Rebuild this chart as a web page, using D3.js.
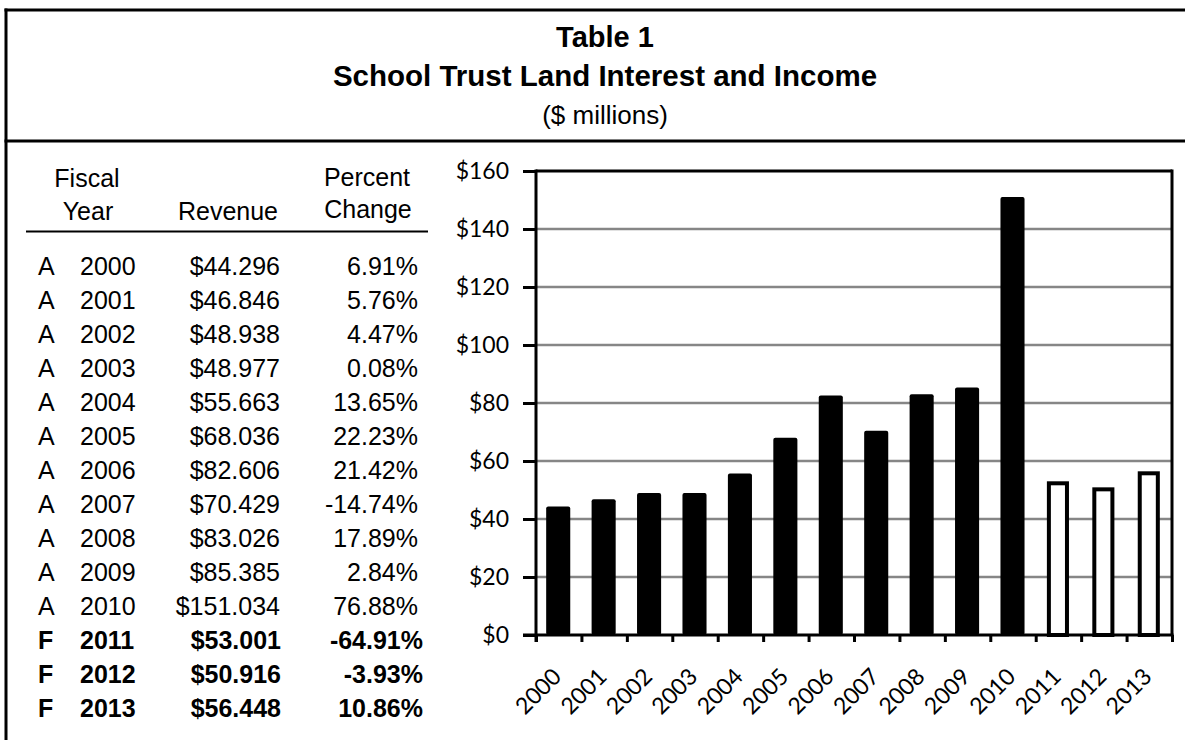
<!DOCTYPE html>
<html><head><meta charset="utf-8">
<script src="https://cdn.jsdelivr.net/npm/d3@7"></script>
<style>body{margin:0;background:#fff}svg{display:block}</style>
</head><body><svg id="c" width="1185" height="740"></svg>
<script>
// ---- data ----
const years = ["2000","2001","2002","2003","2004","2005","2006","2007","2008","2009","2010","2011","2012","2013"];
const status = ["A","A","A","A","A","A","A","A","A","A","A","F","F","F"];
const revenue = [44.296,46.846,48.938,48.977,55.663,68.036,82.606,70.429,83.026,85.385,151.034,53.001,50.916,56.448];
const pctChange = [6.91,5.76,4.47,0.08,13.65,22.23,21.42,-14.74,17.89,2.84,76.88,-64.91,-3.93,10.86];
const yTicks = [0,20,40,60,80,100,120,140,160];
const titleLines = ["Table 1","School Trust Land Interest and Income","($ millions)"];

const svg = d3.select("#c");
const ARIAL = "'Liberation Sans', Arial, sans-serif";
const CAL = "Lato, 'Open Sans', sans-serif";
const loc = d3.formatLocale({decimal:".", thousands:",", grouping:[3], currency:["$",""], minus:"-"});

// ---- frame ----
svg.append("line").attr("x1",6).attr("x2",6).attr("y1",8.5).attr("y2",740).attr("stroke","#000").attr("stroke-width",3);
svg.append("line").attr("x1",4.5).attr("x2",1185).attr("y1",10).attr("y2",10).attr("stroke","#000").attr("stroke-width",3);
svg.append("line").attr("x1",4.5).attr("x2",1185).attr("y1",141).attr("y2",141).attr("stroke","#000").attr("stroke-width",3);

// ---- titles ----
const tx = 605;
svg.append("text").attr("x",tx).attr("y",47).attr("text-anchor","middle")
  .style("font-family",ARIAL).style("font-weight","bold").style("font-size","29px").text(titleLines[0]);
svg.append("text").attr("x",tx).attr("y",86).attr("text-anchor","middle")
  .style("font-family",ARIAL).style("font-weight","bold").style("font-size","29.5px").text(titleLines[1]);
svg.append("text").attr("x",tx).attr("y",124).attr("text-anchor","middle")
  .style("font-family",ARIAL).style("font-size","26px").text(titleLines[2]);

// ---- table ----
const tfs = "25px";
const th = svg.append("g").style("font-family",ARIAL).style("font-size",tfs).attr("fill","#000");
th.append("text").attr("x",87).attr("y",187).attr("text-anchor","middle").text("Fiscal");
th.append("text").attr("x",88).attr("y",220).attr("text-anchor","middle").text("Year");
th.append("text").attr("x",228).attr("y",220).attr("text-anchor","middle").text("Revenue");
th.append("text").attr("x",367).attr("y",186).attr("text-anchor","middle").text("Percent");
th.append("text").attr("x",368).attr("y",218).attr("text-anchor","middle").text("Change");
svg.append("line").attr("x1",26).attr("x2",428).attr("y1",231.5).attr("y2",231.5).attr("stroke","#000").attr("stroke-width",2);

const rowY = d3.scaleLinear().domain([0,13]).range([275,717]);
const fmtRev = v => "$" + loc.format(".3f")(v);
const fmtPct = v => loc.format(".2f")(v) + "%";
const rows = svg.append("g").style("font-family",ARIAL).style("font-size",tfs);
years.forEach((yr,i)=>{
  const bold = status[i] === "F";
  const g = rows.append("g").style("font-weight", bold ? "bold" : "normal");
  g.append("text").attr("x",38).attr("y",rowY(i)).text(status[i]);
  g.append("text").attr("x",80).attr("y",rowY(i)).text(yr);
  g.append("text").attr("x",bold?281:280).attr("y",rowY(i)).attr("text-anchor","end").text(fmtRev(revenue[i]));
  g.append("text").attr("x",bold?423:418).attr("y",rowY(i)).attr("text-anchor","end").text(fmtPct(pctChange[i]));
});

// ---- chart ----
const L = 536, R = 1172, T = 171, B = 635;
const x = d3.scaleBand().domain(years).range([L,R]).paddingInner(0.47).paddingOuter(0.235);
const y = d3.scaleLinear().domain([0,160]).range([B,T]);

// gridlines
svg.append("g").selectAll("line").data(yTicks.filter(d=>d>0)).join("line")
  .attr("x1",L).attr("x2",R).attr("y1",d=>y(d)).attr("y2",d=>y(d))
  .attr("stroke",d=>d===160?"#000":"#868686").attr("stroke-width",d=>d===160?3:2.5);
// right frame
svg.append("line").attr("x1",R).attr("x2",R).attr("y1",T-1.5).attr("y2",B).attr("stroke","#000").attr("stroke-width",3);

// bars
const data = years.map((yr,i)=>({yr, v:revenue[i], s:status[i]}));
svg.append("g").selectAll("rect.a").data(data.filter(d=>d.s==="A")).join("rect")
  .attr("x",d=>x(d.yr)-0.5).attr("width",x.bandwidth())
  .attr("y",d=>y(d.v)).attr("height",d=>y(0)-y(d.v))
  .attr("rx",2).attr("fill","#000");
svg.append("g").selectAll("rect.f").data(data.filter(d=>d.s==="F")).join("rect")
  .attr("x",d=>x(d.yr)+2.5).attr("width",x.bandwidth()-6)
  .attr("y",d=>y(d.v)+2).attr("height",d=>y(0)-y(d.v)-2)
  .attr("fill","#fff").attr("stroke","#000").attr("stroke-width",4);

// y axis
const yAxis = svg.append("g").attr("transform",`translate(${L},0)`)
  .call(d3.axisLeft(y).tickValues(yTicks).tickSize(13).tickSizeOuter(0).tickPadding(14).tickFormat(d=>"$"+d));
yAxis.select(".domain").attr("stroke","#000").attr("stroke-width",3).attr("d",`M0,${T-1.5}V${B+7}`);
yAxis.selectAll(".tick line").attr("stroke","#000").attr("stroke-width",3);
yAxis.selectAll(".tick text").style("font-family",CAL).style("font-size","23px").attr("fill","#000");

// x axis (ticks at category boundaries)
const xb = d3.scaleLinear().domain([0,years.length]).range([L,R]);
const xAxis = svg.append("g").attr("transform",`translate(0,${B})`)
  .call(d3.axisBottom(xb).tickValues(d3.range(years.length+1)).tickSize(7).tickSizeOuter(0).tickFormat(""));
xAxis.select(".domain").attr("stroke","#000").attr("stroke-width",3).attr("d",`M${L-13},0H${R+1.5}`);
xAxis.selectAll(".tick line").attr("stroke","#000").attr("stroke-width",3);

// x labels
svg.append("g").selectAll("text").data(years).join("text")
  .attr("transform",d=>`translate(${x(d)+x.bandwidth()/2+4},${B+43}) rotate(-45)`)
  .attr("text-anchor","end")
  .style("font-family",CAL).style("font-size","23px").text(d=>d);
</script></body></html>
